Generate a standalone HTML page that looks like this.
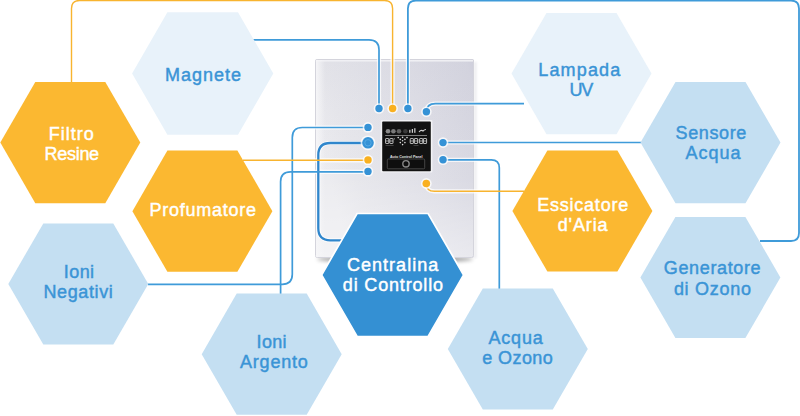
<!DOCTYPE html>
<html><head><meta charset="utf-8"><style>
html,body{margin:0;padding:0;background:#fff;width:800px;height:416px;overflow:hidden}
svg{display:block}
text{font-family:"Liberation Sans",sans-serif;font-size:18px}
.t{stroke-width:0.45px}
</style></head><body>
<svg width="800" height="416" viewBox="0 0 800 416">
<defs>
<linearGradient id="devx" x1="0" y1="0.35" x2="1" y2="0">
<stop offset="0" stop-color="#ebebef"/><stop offset="0.15" stop-color="#e6e6eb"/><stop offset="0.55" stop-color="#dedee6"/><stop offset="0.95" stop-color="#d4d4df"/><stop offset="1" stop-color="#cfcfdc"/>
</linearGradient>
<linearGradient id="devy" x1="0" y1="0" x2="0" y2="1">
<stop offset="0" stop-color="#c9cad6" stop-opacity="0.15"/><stop offset="0.25" stop-color="#d0d0da" stop-opacity="0.05"/><stop offset="0.6" stop-color="#ffffff" stop-opacity="0.05"/><stop offset="1" stop-color="#ffffff" stop-opacity="0.4"/>
</linearGradient>
<linearGradient id="devl" x1="0" y1="0" x2="1" y2="0">
<stop offset="0" stop-color="#f6f6f8" stop-opacity="0.95"/><stop offset="1" stop-color="#f6f6f8" stop-opacity="0"/>
</linearGradient>
<filter id="blur1" x="-200%" y="-10%" width="500%" height="120%"><feGaussianBlur stdDeviation="1"/></filter>
<filter id="blur" x="-20%" y="-200%" width="140%" height="500%"><feGaussianBlur stdDeviation="2"/></filter>
</defs>

<ellipse cx="395" cy="259" rx="78" ry="2.6" fill="#000" opacity="0.55" filter="url(#blur)"/>
<rect x="474" y="62" width="2.5" height="196" fill="#c8c8d4" opacity="0.35" filter="url(#blur1)"/>
<rect x="315" y="59" width="159" height="199" rx="2" fill="url(#devx)"/>
<rect x="315" y="59" width="159" height="199" rx="2" fill="url(#devy)"/>
<rect x="315.5" y="59.5" width="158" height="198" rx="2" fill="none" stroke="#d4d4dc" stroke-width="1"/>
<rect x="316" y="60" width="157" height="1.6" fill="#f2f2f5" opacity="0.9"/>
<rect x="316" y="60" width="9" height="197" fill="url(#devl)"/>
<rect x="380.6" y="120" width="51.8" height="52.6" rx="1" fill="#f2f2f5"/>
<rect x="382.2" y="121.6" width="48.6" height="49.6" rx="0.8" fill="#121212"/>
<circle cx="388" cy="131.2" r="2.3" fill="#8a8a8a"/>
<circle cx="393.4" cy="131.2" r="2.3" fill="#7a7a7a"/>
<circle cx="399" cy="131.2" r="2.3" fill="#606060"/>
<circle cx="405.4" cy="131.2" r="2.3" fill="#3a3a3a"/>
<rect x="409.3" y="129.8" width="1.1" height="3" fill="#e8e8e8"/><rect x="411.8" y="129" width="1.1" height="3.8" fill="#e8e8e8"/><rect x="414.3" y="128.2" width="1.1" height="4.6" fill="#e8e8e8"/>
<path d="M419 132 q2 -2.5 4 -1 q1.5 -1.5 3 -1.5" stroke="#d0d0d0" stroke-width="1.1" fill="none"/>
<rect x="385.2" y="135.1" width="41.8" height="0.9" fill="#8a8a8a"/>
<rect x="385.6" y="138.5" width="3.2" height="5" rx="0.5" fill="none" stroke="#d6d6d6" stroke-width="0.85"/><line x1="385.6" y1="141.0" x2="388.8" y2="141.0" stroke="#d6d6d6" stroke-width="0.7"/>
<rect x="389.8" y="138.5" width="3.2" height="5" rx="0.5" fill="none" stroke="#d6d6d6" stroke-width="0.85"/><line x1="389.8" y1="141.0" x2="393.0" y2="141.0" stroke="#d6d6d6" stroke-width="0.7"/>
<rect x="410.2" y="138.5" width="3.2" height="5" rx="0.5" fill="none" stroke="#d6d6d6" stroke-width="0.85"/><line x1="410.2" y1="141.0" x2="413.4" y2="141.0" stroke="#d6d6d6" stroke-width="0.7"/>
<rect x="414.4" y="138.5" width="3.2" height="5" rx="0.5" fill="none" stroke="#d6d6d6" stroke-width="0.85"/><line x1="414.4" y1="141.0" x2="417.59999999999997" y2="141.0" stroke="#d6d6d6" stroke-width="0.7"/>
<rect x="419.6" y="138.5" width="3.2" height="5" rx="0.5" fill="none" stroke="#d6d6d6" stroke-width="0.85"/><line x1="419.6" y1="141.0" x2="422.8" y2="141.0" stroke="#d6d6d6" stroke-width="0.7"/>
<rect x="423.4" y="138.5" width="3.2" height="5" rx="0.5" fill="none" stroke="#d6d6d6" stroke-width="0.85"/><line x1="423.4" y1="141.0" x2="426.59999999999997" y2="141.0" stroke="#d6d6d6" stroke-width="0.7"/>
<circle cx="394.3" cy="138.8" r="0.6" fill="#bbb"/>
<circle cx="418.4" cy="140" r="0.4" fill="#bbb"/><circle cx="418.4" cy="142" r="0.4" fill="#bbb"/>
<circle cx="402.6" cy="137.4" r="0.8" fill="#dddddd"/>
<circle cx="400.3" cy="139.4" r="0.8" fill="#dddddd"/>
<circle cx="404.90000000000003" cy="139.4" r="0.8" fill="#dddddd"/>
<circle cx="402.6" cy="140.79999999999998" r="0.8" fill="#dddddd"/>
<circle cx="400.3" cy="142.6" r="0.8" fill="#dddddd"/>
<circle cx="404.90000000000003" cy="142.6" r="0.8" fill="#dddddd"/>
<circle cx="402.6" cy="144.6" r="0.8" fill="#dddddd"/>
<circle cx="398.20000000000005" cy="137.6" r="0.8" fill="#dddddd"/>
<circle cx="407.0" cy="137.6" r="0.8" fill="#dddddd"/>
<rect x="385.6" y="145" width="8" height="0.7" fill="#555"/><rect x="413.5" y="145" width="5" height="0.7" fill="#555"/>
<text x="390" y="157.6" textLength="32.5" lengthAdjust="spacingAndGlyphs" style="font-size:4px;font-weight:bold" fill="#e0e0e0">Auto Control Panel</text>
<rect x="387.3" y="159" width="37.4" height="9.8" rx="1" fill="#0e0e0e" stroke="#5a5a5a" stroke-width="0.7"/>
<circle cx="406" cy="163.8" r="3.2" fill="none" stroke="#858585" stroke-width="1.4"/>
<g stroke="#ffffff" stroke-opacity="0.75" stroke-width="4.2" fill="none"><path d="M71.5,83 L71.50,8.50 Q71.5,0.5 79.50,0.50 L384.60,0.50 Q392.6,0.5 392.60,8.50 L392.6,108.5"/><path d="M252.5,39.8 L369.00,39.80 Q379,39.8 379.00,49.80 L379,108.5"/><path d="M407.9,108.5 L407.90,8.60 Q407.9,0.6 415.90,0.60 L791.00,0.60 Q799,0.6 799.00,8.60 L799.00,233.00 Q799,241 791.00,241.00 L760,241"/><path d="M426.4,112 Q426.4,103.6 435.4,103.6 L524,103.6"/><path d="M368,127.5 L302.30,127.50 Q292.3,127.5 292.30,137.50 L292.30,274.30 Q292.3,284.3 282.30,284.30 L148,284.3"/><path d="M368,143 L330.30,143.00 Q318.3,143 318.30,155.00 L318.30,228.30 Q318.3,240.3 330.30,240.30 L360,240.3"/><path d="M368,160.3 L243,160.3"/><path d="M368,171.8 L290.60,171.80 Q280.6,171.8 280.60,181.80 L280.6,294.5"/><path d="M443,142.5 L641,142.5"/><path d="M443,159.8 L491.30,159.80 Q499.3,159.8 499.30,167.80 L499.3,289"/><path d="M426.3,183.5 Q426.3,191.3 434.3,191.3 L524,191.3"/></g>
<path d="M71.5,83 L71.50,8.50 Q71.5,0.5 79.50,0.50 L384.60,0.50 Q392.6,0.5 392.60,8.50 L392.6,108.5" stroke="#f8b42f" stroke-width="1.4" fill="none"/>
<path d="M252.5,39.8 L369.00,39.80 Q379,39.8 379.00,49.80 L379,108.5" stroke="#3f9bd9" stroke-width="1.7" fill="none"/>
<path d="M407.9,108.5 L407.90,8.60 Q407.9,0.6 415.90,0.60 L791.00,0.60 Q799,0.6 799.00,8.60 L799.00,233.00 Q799,241 791.00,241.00 L760,241" stroke="#3f9bd9" stroke-width="1.8" fill="none"/>
<path d="M426.4,112 Q426.4,103.6 435.4,103.6 L524,103.6" stroke="#3f9bd9" stroke-width="1.7" fill="none"/>
<path d="M368,127.5 L302.30,127.50 Q292.3,127.5 292.30,137.50 L292.30,274.30 Q292.3,284.3 282.30,284.30 L148,284.3" stroke="#3f9bd9" stroke-width="1.7" fill="none"/>
<path d="M368,143 L330.30,143.00 Q318.3,143 318.30,155.00 L318.30,228.30 Q318.3,240.3 330.30,240.30 L360,240.3" stroke="#2f86cc" stroke-width="2.3" fill="none"/>
<path d="M368,160.3 L243,160.3" stroke="#f8b42f" stroke-width="1.4" fill="none"/>
<path d="M368,171.8 L290.60,171.80 Q280.6,171.8 280.60,181.80 L280.6,294.5" stroke="#3f9bd9" stroke-width="1.7" fill="none"/>
<path d="M443,142.5 L641,142.5" stroke="#3f9bd9" stroke-width="1.7" fill="none"/>
<path d="M443,159.8 L491.30,159.80 Q499.3,159.8 499.30,167.80 L499.3,289" stroke="#3f9bd9" stroke-width="1.7" fill="none"/>
<path d="M426.3,183.5 Q426.3,191.3 434.3,191.3 L524,191.3" stroke="#f8b42f" stroke-width="1.4" fill="none"/>
<circle cx="379" cy="108.5" r="5.300000000000001" fill="#ffffff" opacity="0.75"/>
<circle cx="379" cy="108.5" r="3.7" fill="#3592d6"/>
<circle cx="392.6" cy="108.5" r="5.300000000000001" fill="#ffffff" opacity="0.75"/>
<circle cx="392.6" cy="108.5" r="3.7" fill="#f9b020"/>
<circle cx="407.9" cy="108.5" r="5.300000000000001" fill="#ffffff" opacity="0.75"/>
<circle cx="407.9" cy="108.5" r="3.7" fill="#3592d6"/>
<circle cx="426.4" cy="111.8" r="5.300000000000001" fill="#ffffff" opacity="0.75"/>
<circle cx="426.4" cy="111.8" r="3.7" fill="#3592d6"/>
<circle cx="368" cy="127.4" r="5.300000000000001" fill="#ffffff" opacity="0.75"/>
<circle cx="368" cy="127.4" r="3.7" fill="#3592d6"/>
<circle cx="368" cy="142.8" r="7.4" fill="#ffffff" opacity="0.75"/>
<circle cx="368" cy="142.8" r="5.8" fill="#3592d6"/>
<circle cx="368" cy="159.9" r="5.300000000000001" fill="#ffffff" opacity="0.75"/>
<circle cx="368" cy="159.9" r="3.7" fill="#f9b020"/>
<circle cx="368" cy="171.4" r="5.300000000000001" fill="#ffffff" opacity="0.75"/>
<circle cx="368" cy="171.4" r="3.7" fill="#3592d6"/>
<circle cx="443" cy="142.6" r="5.300000000000001" fill="#ffffff" opacity="0.75"/>
<circle cx="443" cy="142.6" r="3.7" fill="#3592d6"/>
<circle cx="443" cy="159.8" r="5.300000000000001" fill="#ffffff" opacity="0.75"/>
<circle cx="443" cy="159.8" r="3.7" fill="#3592d6"/>
<circle cx="426.3" cy="183.5" r="5.4" fill="#ffffff" opacity="0.75"/>
<circle cx="426.3" cy="183.5" r="3.8" fill="#f9b020"/>
<circle cx="368" cy="142.8" r="3.2" fill="none" stroke="#5aaee6" stroke-width="0.8"/>
<polygon points="132.10,73.50 167.40,12.36 238.00,12.36 273.30,73.50 238.00,134.64 167.40,134.64" fill="#e8f2fa"/>
<text class="t" x="165.05" y="80.60" textLength="75.90" lengthAdjust="spacing" fill="#3a94d6" stroke="#3a94d6">Magnete</text>
<polygon points="511.50,73.60 546.50,12.98 616.50,12.98 651.50,73.60 616.50,134.22 546.50,134.22" fill="#e8f2fa"/>
<text class="t" x="538.20" y="75.90" textLength="82.10" lengthAdjust="spacing" fill="#3a94d6" stroke="#3a94d6">Lampada</text>
<text class="t" x="569.50" y="95.50" textLength="23.70" lengthAdjust="spacing" fill="#3a94d6" stroke="#3a94d6">UV</text>
<polygon points="0.30,142.60 35.30,81.98 105.30,81.98 140.30,142.60 105.30,203.22 35.30,203.22" fill="#fbb831"/>
<text class="t" x="48.80" y="140.10" textLength="45.00" lengthAdjust="spacing" fill="#ffffff" stroke="#ffffff">Filtro</text>
<text class="t" x="44.60" y="160.00" textLength="54.50" lengthAdjust="spacing" fill="#ffffff" stroke="#ffffff">Resine</text>
<polygon points="640.50,142.60 675.50,81.98 745.50,81.98 780.50,142.60 745.50,203.22 675.50,203.22" fill="#c4dff2"/>
<text class="t" x="675.50" y="138.90" textLength="70.80" lengthAdjust="spacing" fill="#3a94d6" stroke="#3a94d6">Sensore</text>
<text class="t" x="685.60" y="159.00" textLength="54.90" lengthAdjust="spacing" fill="#3a94d6" stroke="#3a94d6">Acqua</text>
<polygon points="132.40,211.20 167.40,150.58 237.40,150.58 272.40,211.20 237.40,271.82 167.40,271.82" fill="#fbb831"/>
<text class="t" x="149.60" y="215.50" textLength="106.30" lengthAdjust="spacing" fill="#ffffff" stroke="#ffffff">Profumatore</text>
<polygon points="512.40,211.00 547.40,150.38 617.40,150.38 652.40,211.00 617.40,271.62 547.40,271.62" fill="#fbb831"/>
<text class="t" x="537.20" y="210.70" textLength="91.00" lengthAdjust="spacing" fill="#ffffff" stroke="#ffffff">Essicatore</text>
<text class="t" x="557.70" y="230.75" textLength="49.90" lengthAdjust="spacing" fill="#ffffff" stroke="#ffffff">d&#39;Aria</text>
<polygon points="8.30,284.00 43.30,223.38 113.30,223.38 148.30,284.00 113.30,344.62 43.30,344.62" fill="#c4dff2"/>
<text class="t" x="63.80" y="278.10" textLength="30.30" lengthAdjust="spacing" fill="#3a94d6" stroke="#3a94d6">Ioni</text>
<text class="t" x="43.40" y="297.50" textLength="69.40" lengthAdjust="spacing" fill="#3a94d6" stroke="#3a94d6">Negativi</text>
<polygon points="640.40,277.50 675.40,216.88 745.40,216.88 780.40,277.50 745.40,338.12 675.40,338.12" fill="#c4dff2"/>
<text class="t" x="663.80" y="274.00" textLength="96.80" lengthAdjust="spacing" fill="#3a94d6" stroke="#3a94d6">Generatore</text>
<text class="t" x="673.90" y="295.40" textLength="77.05" lengthAdjust="spacing" fill="#3a94d6" stroke="#3a94d6">di Ozono</text>
<polygon points="201.70,354.20 236.70,293.58 306.70,293.58 341.70,354.20 306.70,414.82 236.70,414.82" fill="#c4dff2"/>
<text class="t" x="256.55" y="348.10" textLength="30.05" lengthAdjust="spacing" fill="#3a94d6" stroke="#3a94d6">Ioni</text>
<text class="t" x="240.05" y="367.50" textLength="67.75" lengthAdjust="spacing" fill="#3a94d6" stroke="#3a94d6">Argento</text>
<polygon points="447.80,349.00 482.80,288.38 552.80,288.38 587.80,349.00 552.80,409.62 482.80,409.62" fill="#c4dff2"/>
<text class="t" x="488.40" y="343.50" textLength="54.40" lengthAdjust="spacing" fill="#3a94d6" stroke="#3a94d6">Acqua</text>
<text class="t" x="482.20" y="363.75" textLength="70.60" lengthAdjust="spacing" fill="#3a94d6" stroke="#3a94d6">e Ozono</text>
<polygon points="321.60,275.00 357.10,213.51 428.10,213.51 463.60,275.00 428.10,336.49 357.10,336.49" fill="#3490d3" stroke="#ffffff" stroke-width="1.7"/>
<text class="t" x="347.00" y="270.80" textLength="91.20" lengthAdjust="spacing" fill="#ffffff" stroke="#ffffff">Centralina</text>
<text class="t" x="342.80" y="290.75" textLength="100.20" lengthAdjust="spacing" fill="#ffffff" stroke="#ffffff">di Controllo</text>
</svg></body></html>
